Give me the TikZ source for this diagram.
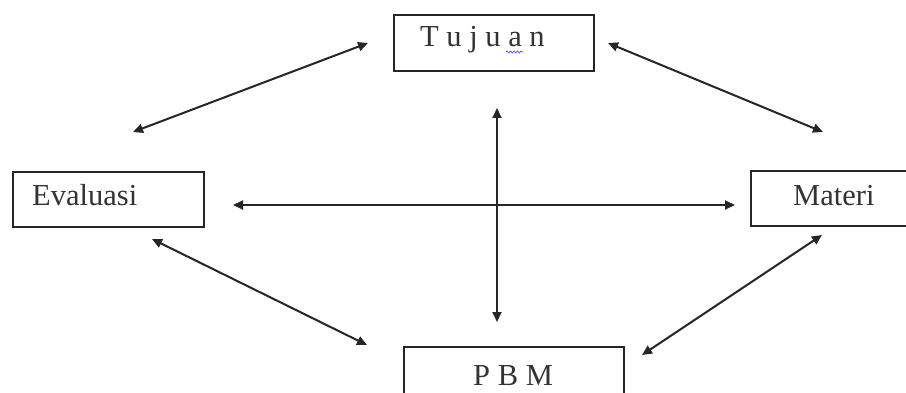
\documentclass[tikz,border=0pt]{standalone}
\usepackage{fontspec}
\setmainfont{Liberation Serif}
\usetikzlibrary{arrows.meta,decorations.pathmorphing}
\begin{document}
\begin{tikzpicture}[x=1pt,y=-1pt,
  box/.style={draw=black!85, line width=2.4pt, inner sep=0pt, anchor=north west},
  lbl/.style={inner sep=0pt, anchor=base west, text=black!80, font=\fontsize{30.5}{36}\selectfont},
  arr/.style={draw=black!85, line width=2pt, {Triangle[length=10pt,width=9pt]}-{Triangle[length=10pt,width=9pt]}}]
\useasboundingbox (0,0) rectangle (906,393);
\fill[white] (0,0) rectangle (906,393);
% boxes
\node[box, minimum width=200pt, minimum height=56pt] (tuj) at (393,14) {};
\node[box, minimum width=191pt, minimum height=55pt] (eva) at (12,171) {};
\node[box, minimum width=170pt, minimum height=55pt] (mat) at (750,170) {};
\node[box, minimum width=220pt, minimum height=70pt] (pbm) at (403,346) {};
% labels
\node[lbl] (tujT) at (420,47) {T u j u a n};
\node[lbl] (evaT) at (32,206) {Evaluasi};
\node[lbl] (matT) at (793,206) {Materi};
\node[lbl] (pbmT) at (473,385) {P B M};
\draw[blue!70, line width=0.7pt, decorate, decoration={snake, amplitude=1pt, segment length=3.5pt}] (506,52) -- (523,52);
% arrow end points
\coordinate (te1) at (368,43);
\coordinate (te2) at (133,132);
\coordinate (tm1) at (608,43);
\coordinate (tm2) at (823,132);
\coordinate (ep1) at (152,239);
\coordinate (ep2) at (367,345);
\coordinate (mp1) at (822,235);
\coordinate (mp2) at (642,355);
\coordinate (v1) at (497,108);
\coordinate (v2) at (497,322);
\coordinate (h1) at (233,205);
\coordinate (h2) at (735,205);
% arrows
\draw[arr] (te2) -- (te1);
\draw[arr] (tm1) -- (tm2);
\draw[arr] (ep1) -- (ep2);
\draw[arr] (mp1) -- (mp2);
\draw[arr] (v1) -- (v2);
\draw[arr] (h1) -- (h2);
\end{tikzpicture}
\end{document}
